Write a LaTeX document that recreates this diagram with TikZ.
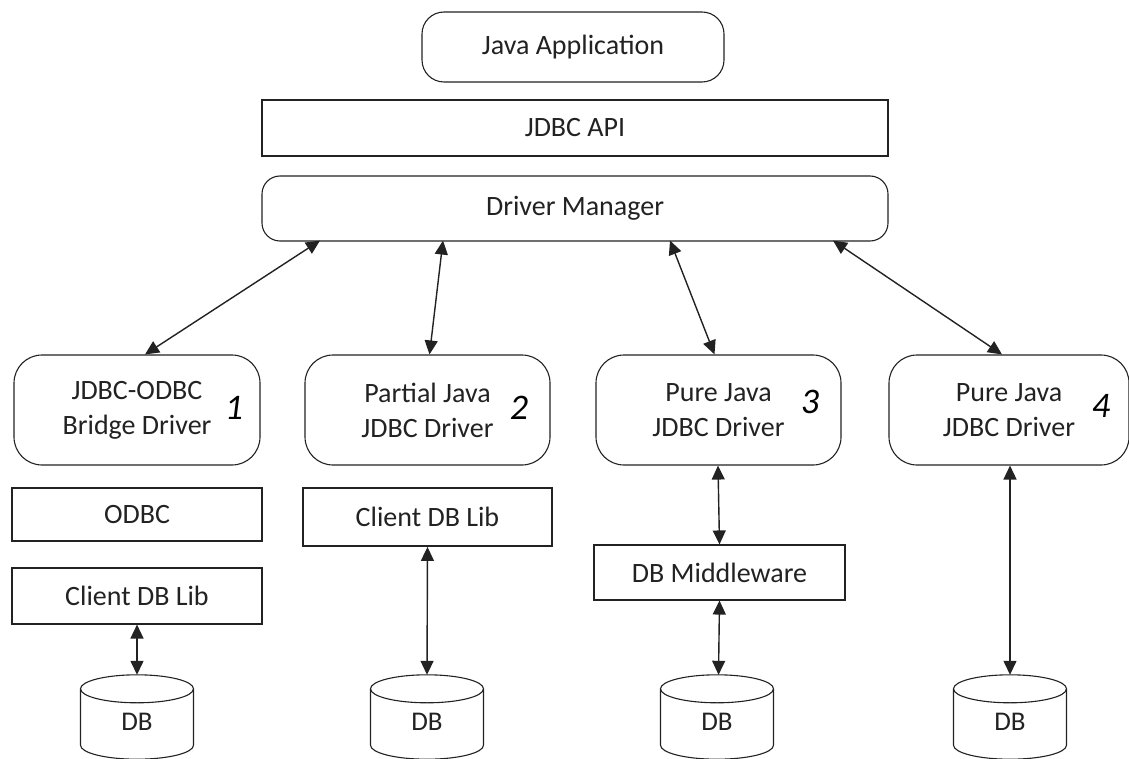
\documentclass[tikz,border=0pt]{standalone}
\usepackage{fontspec}
\setmainfont{Carlito}
\usetikzlibrary{arrows.meta}
\definecolor{ink}{HTML}{222222}
\tikzset{
  base/.style={draw=ink, line width=1.1pt, text=ink, font=\fontsize{28}{35}\selectfont, align=center, inner sep=0pt},
  rbox/.style={base, rounded corners=#1},
  sbox/.style={base},
  dbnode/.style={draw=none, inner sep=0pt, minimum width=113pt, minimum height=84pt},
  link/.style={draw=ink, line width=1.4pt, {Triangle[length=14pt,width=13pt]}-{Triangle[length=14pt,width=13pt]}},
  hand/.style={text=black, font=\fontsize{36}{36}\selectfont\itshape, inner sep=0pt}
}
\begin{document}
\begin{tikzpicture}[x=1pt,y=-1pt]
\useasboundingbox (0,0) rectangle (1129,759);
% top stack
\node[rbox=22pt, minimum width=302pt, minimum height=70pt] (app) at (573,47) {Java Application};
\node[sbox, minimum width=626pt, minimum height=56pt] (api) at (575,128) {JDBC API};
\node[rbox=18pt, minimum width=626pt, minimum height=65pt] (dm) at (575,208.5) {Driver Manager};
% drivers
\node[rbox=28pt, minimum width=246pt, minimum height=110pt] (d1) at (137,410) {JDBC-ODBC\\Bridge Driver};
\node[rbox=28pt, minimum width=245pt, minimum height=110pt] (d2) at (427.5,410) {Partial Java\\JDBC Driver};
\node[rbox=28pt, minimum width=245pt, minimum height=110pt] (d3) at (718.5,410) {Pure Java\\JDBC Driver};
\node[rbox=28pt, minimum width=240pt, minimum height=110pt] (d4) at (1009,410) {Pure Java\\JDBC Driver};
% handwritten numbers
\node[hand] (n1) at (234,408) {1};
\node[hand] (n2) at (519,408) {2};
\node[hand] (n3) at (810,402) {3};
\node[hand] (n4) at (1101,406) {4};
% middle layers
\node[sbox, minimum width=250pt, minimum height=53pt] (odbc) at (137,514.5) {ODBC};
\node[sbox, minimum width=250pt, minimum height=56pt] (lib1) at (137,596) {Client DB Lib};
\node[sbox, line width=1.8pt, minimum width=249pt, minimum height=58pt] (lib2) at (427.5,517) {Client DB Lib};
\node[sbox, minimum width=251pt, minimum height=55pt] (mid) at (719.5,572.5) {DB Middleware};
% databases
\foreach \i/\cx in {1/137,2/427,3/717,4/1010}{
  \node[dbnode] (db\i) at (\cx,717) {};
  \draw[draw=ink, line width=1.1pt, fill=white]
    ([xshift=-56.5pt,yshift=-14pt]db\i.north) -- ([xshift=-56.5pt,yshift=14pt]db\i.south)
    arc[start angle=180, end angle=360, x radius=56.5pt, y radius=14pt]
    -- ([xshift=56.5pt,yshift=-14pt]db\i.north);
  \draw[draw=ink, line width=1.1pt] ([yshift=-14pt]db\i.north) ellipse[x radius=56.5pt, y radius=14pt];
  \node[text=ink, font=\fontsize{27}{30}\selectfont] at ([yshift=-5pt]db\i.center) {DB};
}
% connectors from driver manager
\draw[link] ([xshift=-255pt,yshift=1pt]dm.south) -- ([xshift=8pt]d1.north);
\draw[link] ([xshift=-132pt,yshift=1pt]dm.south) -- ([xshift=2pt]d2.north);
\draw[link] ([xshift=95pt,yshift=1pt]dm.south) -- ([xshift=-4pt]d3.north);
\draw[link] ([xshift=258pt,yshift=1pt]dm.south) -- ([xshift=-7pt]d4.north);
% vertical connectors
\draw[link] (lib1.south) -- (db1.north);
\draw[link] (lib2.south) -- (db2.north);
\draw[link] ([xshift=-0.5pt]d3.south) -- (mid.north);
\draw[link] (mid.south) -- ([xshift=1.5pt]db3.north);
\draw[link] ([xshift=1pt]d4.south) -- (db4.north);
\end{tikzpicture}
\end{document}
